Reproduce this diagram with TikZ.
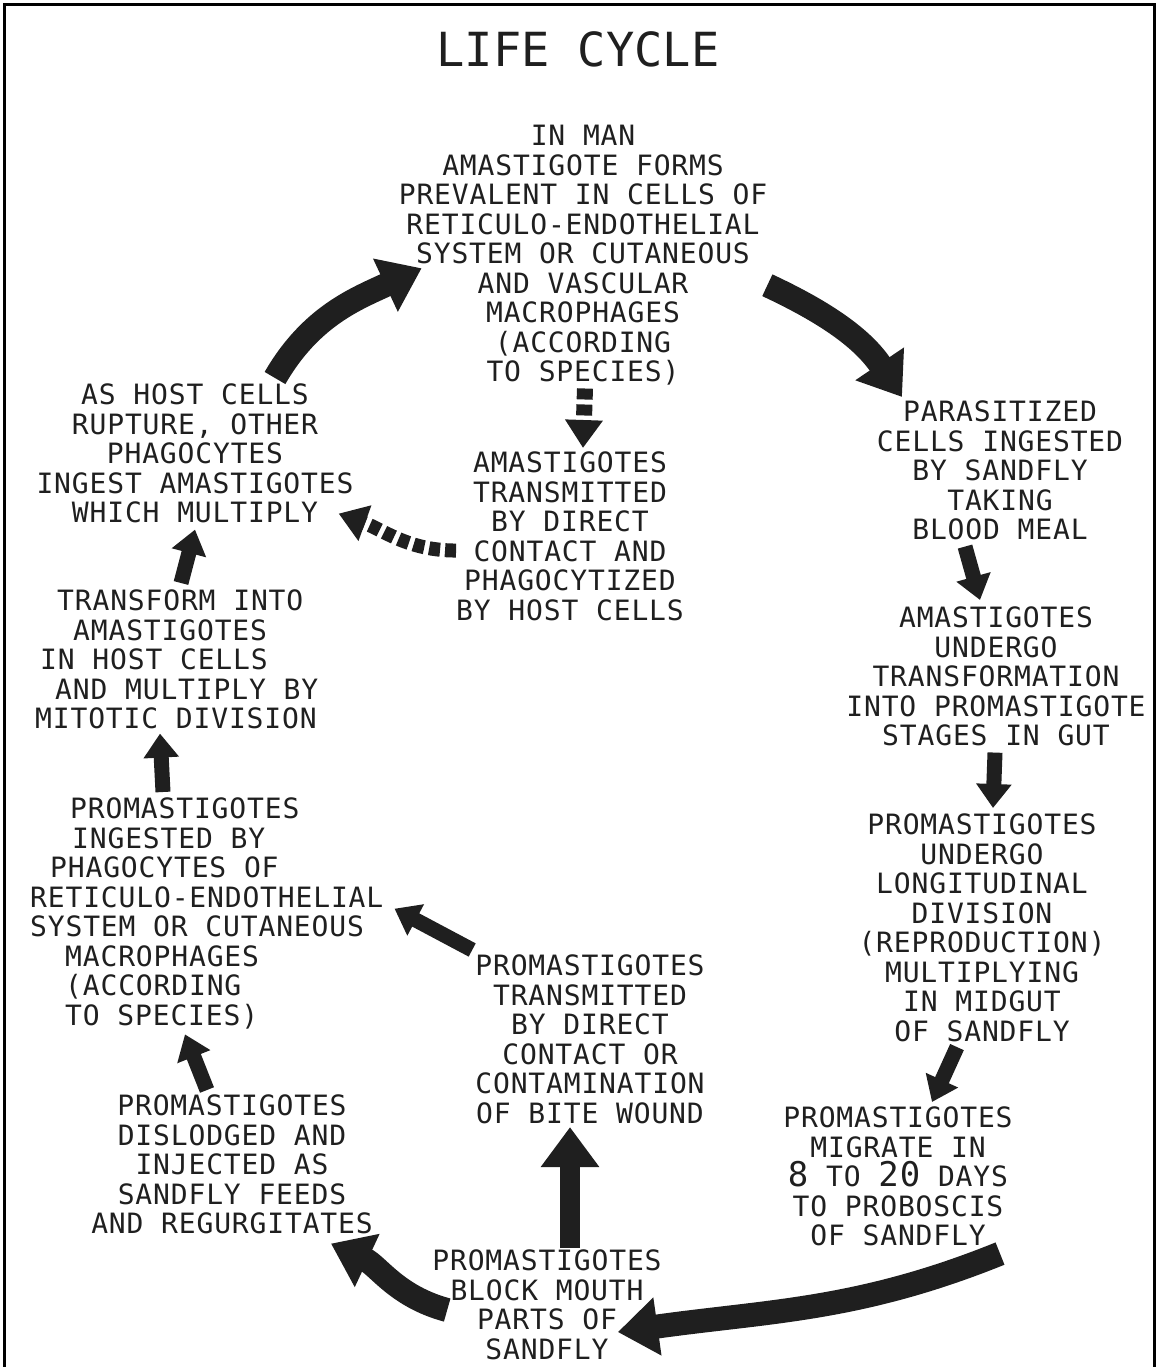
\documentclass[tikz,border=0pt]{standalone}
\usepackage{fontspec}
\usetikzlibrary{arrows.meta}
\newfontfamily\typefont[LetterSpace=3]{DejaVu Sans Mono}
\newfontfamily\titlefont{DejaVu Sans Mono}
\newcommand\numbig[1]{{\fontsize{34}{29.5}\selectfont#1}}
\colorlet{ink}{black!88}

\begin{document}
\begin{tikzpicture}[x=1pt,y=-1pt,
  stage/.style={anchor=north,align=center,inner sep=0pt,text=ink,font=\typefont\fontsize{28}{29.5}\selectfont},
  stageleft/.style={stage,anchor=north west,align=left},
  bigarrow/.style={ink,line width=24pt,-{Triangle[length=40pt,width=56pt]}},
  smallarrow/.style={ink,line width=15pt,-{Triangle[length=24pt,width=34pt]}},
  dotarrow/.style={ink,line width=16pt,dash pattern=on 11pt off 5pt,-{Triangle[length=28pt,width=36pt]}}]
\useasboundingbox (0,0) rectangle (1159,1367);
\draw[line width=3pt] (4.5,1367) -- (4.5,4.5) -- (1154.5,4.5) -- (1154.5,1367);

\node[stage] (title) at (578,31) {\titlefont\fontsize{47}{50}\selectfont LIFE CYCLE};

% man
\node[stage] (man) at (583,125) {IN MAN\\AMASTIGOTE FORMS\\PREVALENT IN CELLS OF\\RETICULO-ENDOTHELIAL\\SYSTEM OR CUTANEOUS\\AND VASCULAR\\MACROPHAGES\\(ACCORDING\\TO SPECIES)};
\node[stage] (contact) at (570,452) {AMASTIGOTES\\TRANSMITTED\\BY DIRECT\\CONTACT AND\\PHAGOCYTIZED\\BY HOST CELLS};
\node[stage] (rupture) at (195,384) {AS HOST CELLS\\RUPTURE, OTHER\\PHAGOCYTES\\INGEST AMASTIGOTES\\WHICH MULTIPLY};

% sandfly
\node[stage] (sandfly) at (1000,401) {PARASITIZED\\CELLS INGESTED\\BY SANDFLY\\TAKING\\BLOOD MEAL};
\node[stage] (undergo) at (996,607) {AMASTIGOTES\\UNDERGO\\TRANSFORMATION\\INTO PROMASTIGOTE\\STAGES IN GUT};
\node[stage] (divide) at (982,814) {PROMASTIGOTES\\UNDERGO\\LONGITUDINAL\\DIVISION\\(REPRODUCTION)\\MULTIPLYING\\IN MIDGUT\\OF SANDFLY};
\node[stage] (migrate) at (898,1107) {PROMASTIGOTES\\MIGRATE IN\\\numbig{8} TO \numbig{20} DAYS\\TO PROBOSCIS\\OF SANDFLY};
\node[stage] (mouth) at (547,1250) {PROMASTIGOTES\\BLOCK MOUTH\\PARTS OF\\SANDFLY};

% back in man
\node[stage] (dislodge) at (232,1095) {PROMASTIGOTES\\DISLODGED AND\\INJECTED AS\\SANDFLY FEEDS\\AND REGURGITATES};
\node[stage] (bite) at (590,955) {PROMASTIGOTES\\TRANSMITTED\\BY DIRECT\\CONTACT OR\\CONTAMINATION\\OF BITE WOUND};
\node[stageleft] (phago) at (30,798) {\hspace*{40pt}PROMASTIGOTES\\\hspace*{42pt}INGESTED BY\\\hspace*{20pt}PHAGOCYTES OF\\RETICULO-ENDOTHELIAL\\SYSTEM OR CUTANEOUS\\\hspace*{35pt}MACROPHAGES\\\hspace*{35pt}(ACCORDING\\\hspace*{35pt}TO SPECIES)};
\node[stageleft] (transform) at (35,590) {\hspace*{22pt}TRANSFORM INTO\\\hspace*{38pt}AMASTIGOTES\\\hspace*{5pt}IN HOST CELLS\\\hspace*{20pt}AND MULTIPLY BY\\MITOTIC DIVISION};

\draw[bigarrow] ([xshift=80pt,yshift=6pt]rupture.north) to[out=60,in=205] ([xshift=23pt,yshift=-13pt]man.west);
\draw[bigarrow] ([yshift=-30pt]man.east) to[out=-25,in=124] ([xshift=-98pt,yshift=4pt]sandfly.north);
\draw[dotarrow] ([xshift=2pt,yshift=-3pt]man.south) -- ([xshift=13pt,yshift=4pt]contact.north);
\draw[dotarrow,line width=14pt] ([yshift=-14pt]contact.west) to[out=180,in=-20] ([xshift=-15pt,yshift=10pt]rupture.south east);
\draw[smallarrow] ([xshift=-35pt,yshift=-6pt]sandfly.south) -- ([xshift=-16pt,yshift=7pt]undergo.north);
\draw[smallarrow] ([xshift=-1pt,yshift=-6pt]undergo.south) -- ([xshift=11pt,yshift=6pt]divide.north);
\draw[smallarrow] ([xshift=-25pt,yshift=-5pt]divide.south) -- ([xshift=34pt,yshift=5pt]migrate.north);
\draw[bigarrow] ([xshift=102pt,yshift=-7pt]migrate.south) to[out=202,in=8] ([xshift=-44pt,yshift=-27pt]mouth.east);
\draw[bigarrow] ([xshift=15pt,yshift=-5pt]mouth.west) to[out=165,in=-25] ([xshift=-42pt,yshift=-9pt]dislodge.south east);
\draw[bigarrow,line width=20pt] ([xshift=23pt,yshift=2pt]mouth.north) -- ([xshift=-20pt,yshift=-3pt]bite.south);
\draw[smallarrow] ([xshift=-3pt,yshift=5pt]bite.north west) -- ([xshift=11pt,yshift=5pt]phago.east);
\draw[smallarrow] ([xshift=-25pt,yshift=5pt]dislodge.north) -- ([xshift=155pt,yshift=-5pt]phago.south west);
\draw[smallarrow] ([xshift=133pt,yshift=6pt]phago.north west) -- ([xshift=125pt,yshift=-4pt]transform.south west);
\draw[smallarrow] ([xshift=146pt,yshift=7pt]transform.north west) -- ([yshift=-6pt]rupture.south);
\end{tikzpicture}
\end{document}
